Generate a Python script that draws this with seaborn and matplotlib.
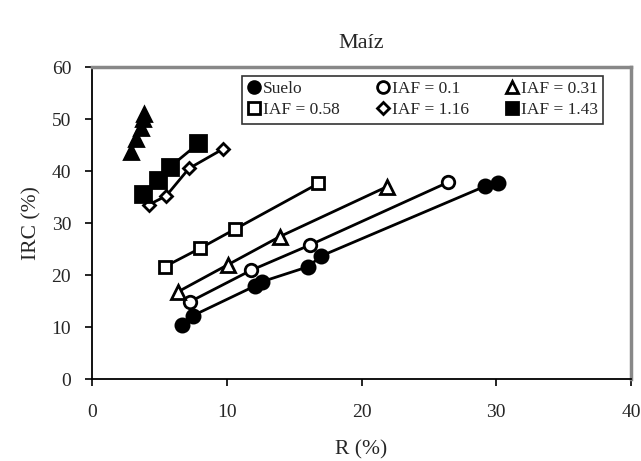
import matplotlib
matplotlib.use("Agg")
import matplotlib.pyplot as plt
import seaborn as sns
import pandas as pd
from matplotlib.lines import Line2D

sns.set_theme(style="white")
plt.rcParams['font.family'] = ['Liberation Serif', 'DejaVu Serif']

# Data
suelo_x = [6.7, 7.5, 12.1, 12.6, 16.05, 17.0, 29.2, 30.1]
suelo_y = [10.4, 12.2, 17.9, 18.7, 21.6, 23.65, 37.1, 37.6]
iaf01_x = [7.3, 11.8, 16.2, 26.4]
iaf01_y = [14.9, 20.9, 25.8, 37.8]
iaf031_x = [6.4, 10.1, 13.95, 21.9]
iaf031_y = [16.8, 22.0, 27.4, 37.0]
iaf058_x = [5.4, 8.0, 10.6, 16.8]
iaf058_y = [21.6, 25.1, 28.8, 37.6]
iaf116_x = [4.2, 5.5, 7.2, 9.7]
iaf116_y = [33.5, 35.2, 40.5, 44.2]
iaf143_x = [3.75, 4.9, 5.8, 7.9]
iaf143_y = [35.6, 38.3, 40.8, 45.3]
extra_x = [2.9, 3.3, 3.6, 3.8, 3.85]
extra_y = [43.6, 46.2, 48.3, 50.0, 51.0]

labels = ["Suelo", "IAF = 0.1", "IAF = 0.31", "IAF = 0.58", "IAF = 1.16", "IAF = 1.43"]

series = [
    (suelo_x, suelo_y, "Suelo", "o", "black", 9.5),
    (iaf01_x, iaf01_y, "IAF = 0.1", "o", "white", 9),
    (iaf031_x, iaf031_y, "IAF = 0.31", "^", "white", 9.5),
    (iaf058_x, iaf058_y, "IAF = 0.58", "s", "white", 9),
    (iaf116_x, iaf116_y, "IAF = 1.16", "D", "white", 6),
    (iaf143_x, iaf143_y, "IAF = 1.43", "s", "black", 11),
    (extra_x, extra_y, "_extra", "^", "black", 10),
]

fig = plt.figure(figsize=(6.41, 4.61), dpi=100)
ax = fig.add_axes([92/641, 1-379/461, (631-92)/641, (379-67)/461])

handles = {}
for xs, ys, name, mk, fc, ms in series:
    df = pd.DataFrame({"x": xs, "y": ys})
    sns.lineplot(data=df, x="x", y="y", ax=ax, color="black", linewidth=2.0,
                 marker=mk, markersize=ms, markerfacecolor=fc,
                 markeredgecolor="black", markeredgewidth=2.0, sort=True,
                 legend=False, zorder=3)
    hs = {"o": 8.5, "^": 8.5, "s": 8, "D": 6.5}[mk]
    handles[name] = Line2D([], [], linestyle="none", marker=mk, markersize=hs,
                           markerfacecolor=fc, markeredgecolor="black",
                           markeredgewidth=2.0)

ax.set_xlim(0, 40)
ax.set_ylim(0, 60)
ax.set_xticks([0, 10, 20, 30, 40])
ax.set_yticks([0, 10, 20, 30, 40, 50, 60])
ax.tick_params(axis="both", which="major", direction="out", length=5, width=1.2,
               color="black", labelsize=14, bottom=True, left=True)
ax.tick_params(axis="x", pad=13)
ax.tick_params(axis="y", pad=10)

for s in ["left", "bottom"]:
    ax.spines[s].set_color("black")
    ax.spines[s].set_linewidth(1.3)
for s in ["top", "right"]:
    ax.spines[s].set_color("#888888")
    ax.spines[s].set_linewidth(2.5)

ax.set_xlabel("R (%)", fontsize=15.5, labelpad=14)
ax.set_ylabel("IRC (%)", fontsize=15.5, labelpad=7)
ax.set_title("Maíz", fontsize=16, pad=14)

order = ["Suelo", "IAF = 0.58", "IAF = 0.1", "IAF = 1.16", "IAF = 0.31", "IAF = 1.43"]
leg = ax.legend([handles[k] for k in order], order, ncol=3, loc="upper right",
                bbox_to_anchor=(0.948, 0.972), borderaxespad=0, frameon=True,
                fancybox=False, edgecolor="black", fontsize=12.5,
                handlelength=0.8, handletextpad=0.1, columnspacing=2.1,
                labelspacing=0.3, borderpad=0.3)
leg.get_frame().set_linewidth(1.2)

fig.savefig("out.png", dpi=100, facecolor="white")
